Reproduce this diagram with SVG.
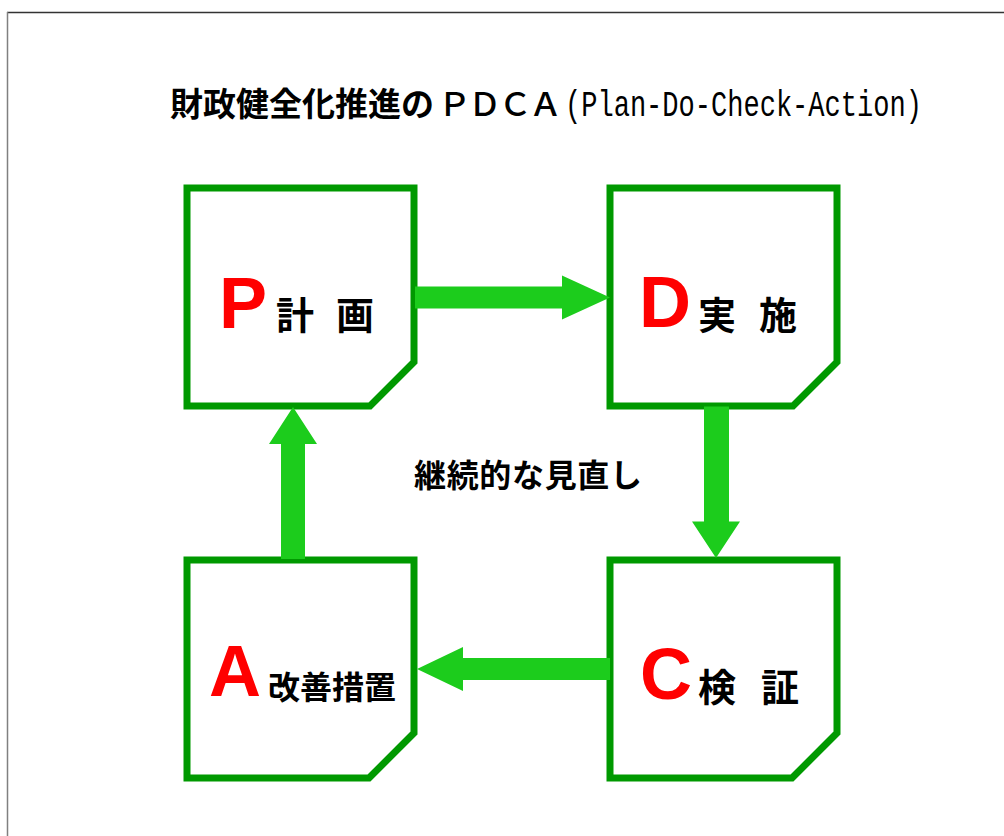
<svg xmlns="http://www.w3.org/2000/svg" width="1004" height="836" viewBox="0 0 1004 836">
  <style>
    .box { fill: #ffffff; stroke: #009900; stroke-width: 7; stroke-linejoin: miter; }
    .arrow { fill: #1ccc1c; stroke: none; }
    .letter { font-family: "Liberation Sans", Arial, sans-serif; font-weight: bold; font-size: 72px; fill: #ff0000; }
    .label { font-family: "Noto Sans CJK JP", "Noto Sans CJK SC", sans-serif; font-weight: bold; fill: #000000; }
  </style>
  <rect width="1004" height="836" fill="#ffffff"/>
  <line x1="7" y1="12.5" x2="1004" y2="12.5" stroke="#333333" stroke-width="1.5"/>
  <line x1="7.5" y1="12" x2="7.5" y2="836" stroke="#808080" stroke-width="1.5"/>

  <g id="title">
    <text x="170" y="116" font-family="Noto Sans CJK JP, sans-serif" font-size="33"><tspan font-weight="bold">財政健全化推進の</tspan><tspan font-weight="500" x="438" textLength="124" lengthAdjust="spacing">ＰＤＣＡ</tspan></text>
    <text transform="translate(565,116) scale(0.731,1)" x="0" y="0" font-family="Liberation Mono, monospace" font-size="37">(Plan-Do-Check-Action)</text>
  </g>

  <g id="node-plan">
    <path class="box" d="M187,188 H414 V362 L370,406 H187 Z"/>
    <text class="letter" x="219" y="328">P</text>
    <text class="label" x="276" y="329" font-size="38" textLength="98" lengthAdjust="spacing">計　画</text>
  </g>

  <g id="node-do">
    <path class="box" d="M610,188 H837 V362 L793,406 H610 Z"/>
    <text class="letter" x="639" y="327">D</text>
    <text class="label" x="698" y="329" font-size="38" textLength="99" lengthAdjust="spacing">実　施</text>
  </g>

  <g id="node-check">
    <path class="box" d="M610,560 H837 V733 L792,778 H610 Z"/>
    <text class="letter" x="640" y="699">C</text>
    <text class="label" x="698" y="701" font-size="38" textLength="101" lengthAdjust="spacing">検　証</text>
  </g>

  <g id="node-action">
    <path class="box" d="M187,560 H414 V733 L369,778 H187 Z"/>
    <text class="letter" x="209" y="696" font-size="70">A</text>
    <text class="label" x="268" y="699" font-size="32" textLength="128" lengthAdjust="spacing">改善措置</text>
  </g>

  <g id="center-label">
    <text class="label" x="414" y="487" font-size="32" textLength="228" lengthAdjust="spacing">継続的な見直し</text>
  </g>

  <g id="connectors">
    <polygon class="arrow" points="415,286.5 562,286.5 562,275.5 610,297.5 562,319.5 562,308.5 415,308.5"/>
    <polygon class="arrow" points="704,406.5 729,406.5 729,521.5 740,521.5 716,558 692,521.5 704,521.5"/>
    <polygon class="arrow" points="610,658 463,658 463,647 417,669 463,691 463,680 610,680"/>
    <polygon class="arrow" points="281,559 305,559 305,444 317,444 293,407 269,444 281,444"/>
  </g>
</svg>
